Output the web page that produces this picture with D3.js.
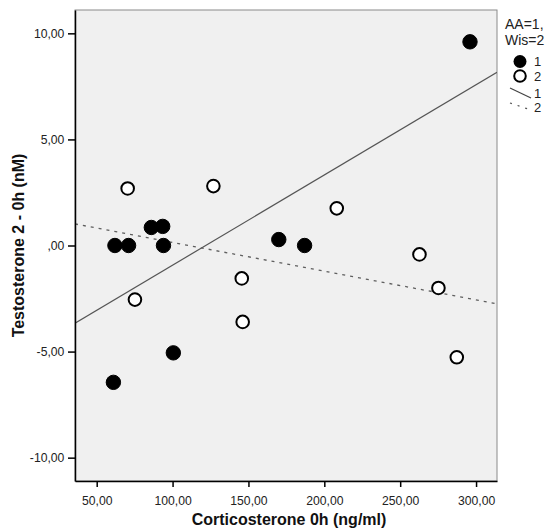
<!DOCTYPE html>
<html>
<head>
<meta charset="utf-8">
<script src="https://cdn.jsdelivr.net/npm/d3@7"></script>
<style>
  html, body { margin: 0; padding: 0; background: #ffffff; overflow: hidden; }
  svg { display: block; }
  text { font-family: "Liberation Sans", Arial, sans-serif; }
</style>
</head>
<body>
<svg id="chart" width="545" height="530"></svg>
<script>
// Group 1 (AA=1): corticosterone 0h vs testosterone change
const group1X = [296, 61, 62, 71, 86, 93.5, 94, 100.5, 170, 187];
const group1Y = [9.6, -6.45, 0, 0, 0.85, 0.9, 0, -5.06, 0.28, 0];
// Group 2 (Wis=2)
const group2X = [70.4, 75.2, 126.9, 145.6, 146.2, 208.2, 262.7, 275.2, 287.3];
const group2Y = [2.69, -2.55, 2.8, -1.55, -3.6, 1.75, -0.42, -2.0, -5.27];

const xTicks = [50, 100, 150, 200, 250, 300];
const yTicks = [-10, -5, 0, 5, 10];
const legendTitle = ["AA=1,", "Wis=2"];
const groupLabels = ["1", "2"];

// SPSS-style number format: comma decimal, no leading zero
const fmt = v => {
  const s = Math.abs(v).toFixed(2).replace(".", ",");
  const t = s.startsWith("0,") ? s.slice(1) : s;
  return (v < 0 ? "-" : "") + t;
};

const svg = d3.select("#chart");
const m = { left: 75, top: 10, right: 497, bottom: 481 };

const x = d3.scaleLinear().domain([35.7, 313.8]).range([m.left, m.right]);
const y = d3.scaleLinear().domain([-11.1, 11.1]).range([m.bottom, m.top]);

// plot background
svg.append("rect")
  .attr("x", m.left).attr("y", m.top)
  .attr("width", m.right - m.left).attr("height", m.bottom - m.top)
  .attr("fill", "#f0f0f0").attr("stroke", "#8a8a8a").attr("stroke-width", 1);

// least-squares fit per group
function fit(xs, ys) {
  const n = xs.length;
  const mx = d3.mean(xs), my = d3.mean(ys);
  let sxy = 0, sxx = 0;
  for (let i = 0; i < n; i++) {
    sxy += (xs[i] - mx) * (ys[i] - my);
    sxx += (xs[i] - mx) * (xs[i] - mx);
  }
  const b = sxy / sxx;
  return { b, a: my - b * mx };
}
const [x0, x1] = x.domain();
const line = d3.line().x(d => x(d[0])).y(d => y(d[1]));
svg.append("clipPath").attr("id", "plotclip").append("rect")
  .attr("x", m.left).attr("y", m.top)
  .attr("width", m.right - m.left).attr("height", m.bottom - m.top);

const f1 = fit(group1X, group1Y);
const f2 = fit(group2X, group2Y);
svg.append("path")
  .attr("clip-path", "url(#plotclip)")
  .attr("d", line([[x0, f1.a + f1.b * x0], [x1, f1.a + f1.b * x1]]))
  .attr("fill", "none").attr("stroke", "#555").attr("stroke-width", 1.2);
svg.append("path")
  .attr("clip-path", "url(#plotclip)")
  .attr("d", line([[x0, f2.a + f2.b * x0], [x1, f2.a + f2.b * x1]]))
  .attr("fill", "none").attr("stroke", "#5e5e5e").attr("stroke-width", 1.3)
  .attr("stroke-dasharray", "3,5");

// points
const pts1 = group1X.map((v, i) => [v, group1Y[i]]);
const pts2 = group2X.map((v, i) => [v, group2Y[i]]);
svg.append("g").selectAll("circle").data(pts1).join("circle")
  .attr("cx", d => x(d[0])).attr("cy", d => y(d[1])).attr("r", 7.2)
  .attr("fill", "#000").attr("stroke", "#000").attr("stroke-width", 1);
svg.append("g").selectAll("circle").data(pts2).join("circle")
  .attr("cx", d => x(d[0])).attr("cy", d => y(d[1])).attr("r", 6.3)
  .attr("fill", "#fff").attr("stroke", "#000").attr("stroke-width", 2);

// axes
const xAxis = svg.append("g").attr("transform", `translate(0,${m.bottom})`)
  .call(d3.axisBottom(x).tickValues(xTicks).tickFormat(fmt).tickSize(6).tickSizeOuter(0));
const yAxis = svg.append("g").attr("transform", `translate(${m.left},0)`)
  .call(d3.axisLeft(y).tickValues(yTicks).tickFormat(fmt).tickSize(7).tickSizeOuter(0));
[xAxis, yAxis].forEach(g => {
  g.select(".domain").attr("stroke", "#000").attr("stroke-width", 1.5);
  g.selectAll(".tick line").attr("stroke", "#000").attr("stroke-width", 1.5);
  g.selectAll(".tick text").attr("fill", "#222").attr("font-size", 12.2)
    .attr("font-family", "'Liberation Sans', Arial, sans-serif");
});
xAxis.selectAll(".tick text").attr("dy", "1.2em");
yAxis.selectAll(".tick text").attr("dx", "-0.05em");

// axis titles
svg.append("text")
  .attr("x", 289).attr("y", 525)
  .attr("text-anchor", "middle").attr("font-weight", "bold")
  .attr("font-size", 16).attr("fill", "#111")
  .text("Corticosterone 0h (ng/ml)");
svg.append("text")
  .attr("transform", `translate(24,${(m.top + m.bottom) / 2}) rotate(-90)`)
  .attr("text-anchor", "middle").attr("font-weight", "bold")
  .attr("font-size", 16).attr("fill", "#111")
  .text("Testosterone 2 - 0h (nM)");

// legend: two-line title, then symbols and labels
const lg = svg.append("g").attr("fill", "#222");
legendTitle.forEach((t, i) => {
  lg.append("text").attr("font-size", 14).attr("x", 505).attr("y", 28.5 + i * 16.5).text(t);
});
lg.append("circle").attr("cx", 520).attr("cy", 61.5).attr("r", 6.5).attr("fill", "#000");
lg.append("circle").attr("cx", 520).attr("cy", 76).attr("r", 5.8)
  .attr("fill", "#fff").attr("stroke", "#000").attr("stroke-width", 2);
lg.append("line").attr("x1", 510).attr("y1", 88).attr("x2", 531).attr("y2", 98)
  .attr("stroke", "#444").attr("stroke-width", 1.2);
lg.append("line").attr("x1", 510).attr("y1", 103).attr("x2", 531).attr("y2", 110)
  .attr("stroke", "#555").attr("stroke-width", 1.2).attr("stroke-dasharray", "2,6");
const lgLabels = lg.append("g").attr("font-size", 13);
[groupLabels[0], groupLabels[1], groupLabels[0], groupLabels[1]].forEach((t, i) => {
  lgLabels.append("text").attr("x", 534).attr("y", [66, 81, 98, 112][i]).text(t);
});
</script>
</body>
</html>
